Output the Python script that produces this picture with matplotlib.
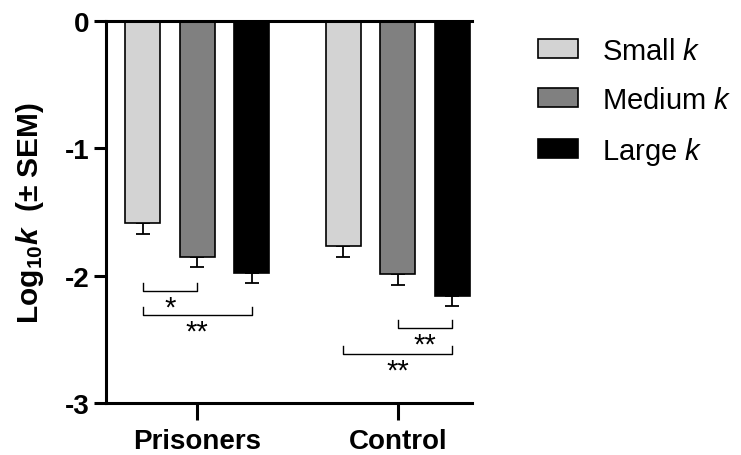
import numpy as np
import matplotlib
matplotlib.use("Agg")
from matplotlib import pyplot as plt

plt.rcParams['font.family'] = ['Liberation Sans', 'DejaVu Sans']
plt.rcParams['mathtext.fontset'] = 'custom'
plt.rcParams['mathtext.rm'] = 'Liberation Sans'
plt.rcParams['mathtext.it'] = 'Liberation Sans:italic'
plt.rcParams['mathtext.bf'] = 'Liberation Sans:bold'
plt.rcParams['mathtext.bfit'] = 'Liberation Sans:bold:italic'

# datos
grupos = ['Prisoners', 'Control']
series = ['Small $k$', 'Medium $k$', 'Large $k$']
colores = ['#d3d3d3', '#808080', '#000000']
valores = {
    'Small $k$': [-1.59, -1.77],
    'Medium $k$': [-1.85, -1.99],
    'Large $k$': [-1.98, -2.16],
}
sem = {
    'Small $k$': [0.08, 0.08],
    'Medium $k$': [0.08, 0.08],
    'Large $k$': [0.08, 0.08],
}
# comparaciones: (grupo, serie a, serie b, altura, texto)
comparaciones = [
    (0, 0, 1, -2.12, '*'),
    (0, 0, 2, -2.31, '**'),
    (1, 1, 2, -2.41, '**'),
    (1, 0, 2, -2.615, '**'),
]

fig = plt.figure(figsize=(7.41, 4.56), dpi=100)
ax = fig.add_axes([0.143, 0.114, 0.494, 0.838])

x = np.arange(len(grupos))
ancho = 0.175
paso = 0.2725
for i, s in enumerate(series):
    pos = x + (i - 1) * paso
    ax.bar(pos, valores[s], width=ancho, color=colores[i], edgecolor='black',
           linewidth=1.2, label=s, zorder=2)
    ax.errorbar(pos, valores[s], yerr=[sem[s], np.zeros(len(grupos))], fmt='none',
                ecolor='black', elinewidth=1.3, capsize=5, capthick=1.3, zorder=1)

for g, a, b, h, txt in comparaciones:
    xa = x[g] + (a - 1) * paso
    xb = x[g] + (b - 1) * paso
    ax.plot([xa, xa, xb, xb], [h + 0.065, h, h, h + 0.065], color='black', lw=1.0)
    ax.text((xa + xb) / 2, h - 0.02, txt, ha='center', va='top', fontsize=21)

ax.set_xlim(-0.455, 1.37)
ax.set_ylim(-3, 0)
ax.set_yticks([0, -1, -2, -3])
ax.set_yticklabels(['0', '-1', '-2', '-3'])
ax.set_xticks(x)
ax.set_xticklabels(grupos)
for lab in ax.get_xticklabels() + ax.get_yticklabels():
    lab.set_fontweight('bold')
    lab.set_fontsize(20)
ax.tick_params(axis='y', length=9, width=2.2, pad=3)
ax.tick_params(axis='x', length=12, width=2.2, pad=6)

ax.spines['right'].set_visible(False)
for sp in ['left', 'top', 'bottom']:
    ax.spines[sp].set_linewidth(2.2)

ax.set_ylabel(r'Log$_{\mathbf{10}}\mathbfit{k}$  (± SEM)', fontsize=21.5,
              fontweight='bold', labelpad=13)

fig.legend(loc='upper left', bbox_to_anchor=(0.69, 0.975), frameon=False,
           fontsize=21, handlelength=1.4, handleheight=0.65, handletextpad=0.8,
           labelspacing=0.72)

fig.savefig('out.png', dpi=100)
